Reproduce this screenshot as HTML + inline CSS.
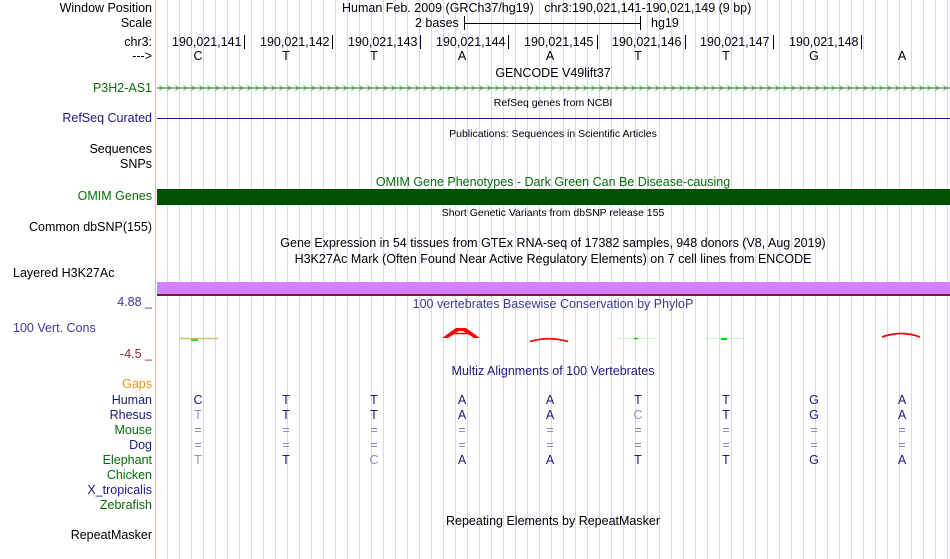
<!DOCTYPE html>
<html><head><meta charset="utf-8"><style>
body{margin:0;width:950px;height:559px;overflow:hidden;background:#fff;font-family:"Liberation Sans",sans-serif;font-size:12.5px;position:relative}
.g{position:absolute;left:156px;top:0;width:794px;height:559px;background:repeating-linear-gradient(90deg,transparent 0,transparent 11px,#d8d8f4 11px,#d8d8f4 12px);background-position:0 0}
.rb{position:absolute;left:155px;top:0;width:1px;height:559px;background:#f6b0b0}
.t{position:absolute;white-space:nowrap;line-height:14px}
.l{position:absolute;right:798px;white-space:nowrap;line-height:14px;text-align:right}
.c{position:absolute;white-space:nowrap;line-height:14px;transform:translateX(-50%)}
.s{font-size:10.5px}
.n{color:#1a1a80}.gr{color:#0a6b0a}
.tk{position:absolute;width:1px;height:14px;background:#000;top:35px}
</style></head><body>
<div class="g"></div><div class="rb"></div>
<div class="l" style="top:1px">Window Position</div>
<div class="t" style="left:342px;top:1px">Human Feb. 2009 (GRCh37/hg19)&nbsp;&nbsp; chr3:190,021,141-190,021,149 (9 bp)</div>
<div class="l" style="top:16px">Scale</div>
<div class="t" style="left:415px;top:16px">2 bases</div>
<div style="position:absolute;left:464px;top:23px;width:177px;height:1px;background:#000"></div>
<div style="position:absolute;left:464px;top:16px;width:1px;height:14px;background:#000"></div>
<div style="position:absolute;left:640px;top:16px;width:1px;height:14px;background:#000"></div>
<div class="t" style="left:651px;top:16px">hg19</div>
<div class="l" style="top:35px">chr3:</div>
<div class="t" style="left:172px;top:35px">190,021,141</div><div class="tk" style="left:244px"></div>
<div class="t" style="left:260px;top:35px">190,021,142</div><div class="tk" style="left:332px"></div>
<div class="t" style="left:348px;top:35px">190,021,143</div><div class="tk" style="left:420px"></div>
<div class="t" style="left:436px;top:35px">190,021,144</div><div class="tk" style="left:508px"></div>
<div class="t" style="left:524px;top:35px">190,021,145</div><div class="tk" style="left:597px"></div>
<div class="t" style="left:612px;top:35px">190,021,146</div><div class="tk" style="left:685px"></div>
<div class="t" style="left:700px;top:35px">190,021,147</div><div class="tk" style="left:773px"></div>
<div class="t" style="left:789px;top:35px">190,021,148</div><div class="tk" style="left:861px"></div>
<div class="l" style="top:49px">---&gt;</div>
<div class="c" style="left:198px;top:49px">C</div><div class="c" style="left:286px;top:49px">T</div><div class="c" style="left:374px;top:49px">T</div><div class="c" style="left:462px;top:49px">A</div><div class="c" style="left:550px;top:49px">A</div><div class="c" style="left:638px;top:49px">T</div><div class="c" style="left:726px;top:49px">T</div><div class="c" style="left:814px;top:49px">G</div><div class="c" style="left:902px;top:49px">A</div>
<div class="c" style="left:553px;top:66px">GENCODE V49lift37</div>
<div class="l gr" style="top:81px">P3H2-AS1</div>
<svg style="position:absolute;left:157px;top:83px" width="793" height="10"><defs><pattern id="ch" width="8" height="10" patternUnits="userSpaceOnUse"><path d="M2.5 2.5 L5.5 5 L2.5 7.5" fill="none" stroke="#3a8a3a" stroke-width="0.8"/></pattern></defs><line x1="0" y1="5" x2="793" y2="5" stroke="#0a6b0a"/><rect width="793" height="10" fill="url(#ch)"/></svg>
<div class="c s" style="left:553px;top:96px">RefSeq genes from NCBI</div>
<div class="l n" style="top:111px">RefSeq Curated</div>
<div style="position:absolute;left:157px;top:118px;width:793px;height:1px;background:#1a1a80"></div>
<div class="c s" style="left:553px;top:127px">Publications: Sequences in Scientific Articles</div>
<div class="l" style="top:142px">Sequences</div>
<div class="l" style="top:157px">SNPs</div>
<div class="c gr" style="left:553px;top:175px">OMIM Gene Phenotypes - Dark Green Can Be Disease-causing</div>
<div class="l gr" style="top:189px">OMIM Genes</div>
<div style="position:absolute;left:157px;top:189px;width:793px;height:16px;background:#005200"></div>
<div class="c s" style="left:553px;top:206px">Short Genetic Variants from dbSNP release 155</div>
<div class="l" style="top:220px">Common dbSNP(155)</div>
<div class="c" style="left:553px;top:236px">Gene Expression in 54 tissues from GTEx RNA-seq of 17382 samples, 948 donors (V8, Aug 2019)</div>
<div class="c" style="left:553px;top:252px">H3K27Ac Mark (Often Found Near Active Regulatory Elements) on 7 cell lines from ENCODE</div>
<div class="t" style="left:13px;top:266px">Layered H3K27Ac</div>
<div style="position:absolute;left:157px;top:282px;width:793px;height:12px;background:#d580ff"></div>
<div style="position:absolute;left:157px;top:294px;width:793px;height:2px;background:#7a1a2a"></div>
<div class="l" style="top:295px;color:#3a3aa0">4.88 _</div>
<div class="c" style="left:553px;top:297px;color:#3a3a90">100 vertebrates Basewise Conservation by PhyloP</div>
<div class="t" style="left:13px;top:321px;color:#3a3aa0">100 Vert. Cons</div>
<div class="l" style="top:347px;color:#8a2a2a">-4.5 _</div>
<svg style="position:absolute;left:157px;top:320px" width="793" height="30">
<line x1="23" y1="18.5" x2="61" y2="18.5" stroke="#c8c860" stroke-width="1.5"/><line x1="34" y1="20" x2="41" y2="20" stroke="#0c0" stroke-width="1.5"/>
<path d="M285 18 L299 8 L309 8 L323 18 L317 18 L306 11 L302 11 L291 18 Z" fill="#f00"/><line x1="294" y1="13.5" x2="314" y2="13.5" stroke="#f00" stroke-width="1.5"/>
<path d="M373 21.5 Q392 16 411 21.5" fill="none" stroke="#f00" stroke-width="1.8"/>
<line x1="460" y1="18.5" x2="498" y2="18.5" stroke="#c8f8c8"/><line x1="477" y1="18.5" x2="481" y2="18.5" stroke="#0d0" stroke-width="1.5"/>
<line x1="548" y1="18.5" x2="586" y2="18.5" stroke="#c8f8c8"/><line x1="564" y1="19" x2="570" y2="19" stroke="#0d0" stroke-width="2"/>
<path d="M725 17 Q744 10 763 17" fill="none" stroke="#f00" stroke-width="1.8"/>
</svg>
<div class="c" style="left:553px;top:364px;color:#1a1a80">Multiz Alignments of 100 Vertebrates</div>
<div class="l" style="top:377px;color:#f0900a">Gaps</div>
<div class="l n" style="top:393px">Human</div>
<div class="l n" style="top:408px">Rhesus</div>
<div class="l gr" style="top:423px">Mouse</div>
<div class="l n" style="top:438px">Dog</div>
<div class="l gr" style="top:453px">Elephant</div>
<div class="l gr" style="top:468px">Chicken</div>
<div class="l n" style="top:483px">X_tropicalis</div>
<div class="l gr" style="top:498px">Zebrafish</div>
<div class="n">
<div class="c" style="left:198px;top:393px">C</div><div class="c" style="left:286px;top:393px">T</div><div class="c" style="left:374px;top:393px">T</div><div class="c" style="left:462px;top:393px">A</div><div class="c" style="left:550px;top:393px">A</div><div class="c" style="left:638px;top:393px">T</div><div class="c" style="left:726px;top:393px">T</div><div class="c" style="left:814px;top:393px">G</div><div class="c" style="left:902px;top:393px">A</div>
<div class="c" style="left:198px;top:408px;color:#9090c0">T</div><div class="c" style="left:286px;top:408px">T</div><div class="c" style="left:374px;top:408px">T</div><div class="c" style="left:462px;top:408px">A</div><div class="c" style="left:550px;top:408px">A</div><div class="c" style="left:638px;top:408px;color:#9090c0">C</div><div class="c" style="left:726px;top:408px">T</div><div class="c" style="left:814px;top:408px">G</div><div class="c" style="left:902px;top:408px">A</div>
</div>
<div style="color:#8080b8">
<div class="c" style="left:198px;top:423px">=</div><div class="c" style="left:286px;top:423px">=</div><div class="c" style="left:374px;top:423px">=</div><div class="c" style="left:462px;top:423px">=</div><div class="c" style="left:550px;top:423px">=</div><div class="c" style="left:638px;top:423px">=</div><div class="c" style="left:726px;top:423px">=</div><div class="c" style="left:814px;top:423px">=</div><div class="c" style="left:902px;top:423px">=</div>
<div class="c" style="left:198px;top:438px">=</div><div class="c" style="left:286px;top:438px">=</div><div class="c" style="left:374px;top:438px">=</div><div class="c" style="left:462px;top:438px">=</div><div class="c" style="left:550px;top:438px">=</div><div class="c" style="left:638px;top:438px">=</div><div class="c" style="left:726px;top:438px">=</div><div class="c" style="left:814px;top:438px">=</div><div class="c" style="left:902px;top:438px">=</div>
</div>
<div class="n">
<div class="c" style="left:198px;top:453px;color:#9090c0">T</div><div class="c" style="left:286px;top:453px">T</div><div class="c" style="left:374px;top:453px;color:#9090c0">C</div><div class="c" style="left:462px;top:453px">A</div><div class="c" style="left:550px;top:453px">A</div><div class="c" style="left:638px;top:453px">T</div><div class="c" style="left:726px;top:453px">T</div><div class="c" style="left:814px;top:453px">G</div><div class="c" style="left:902px;top:453px">A</div>
</div>
<div class="c" style="left:553px;top:514px">Repeating Elements by RepeatMasker</div>
<div class="l" style="top:528px">RepeatMasker</div>
</body></html>
